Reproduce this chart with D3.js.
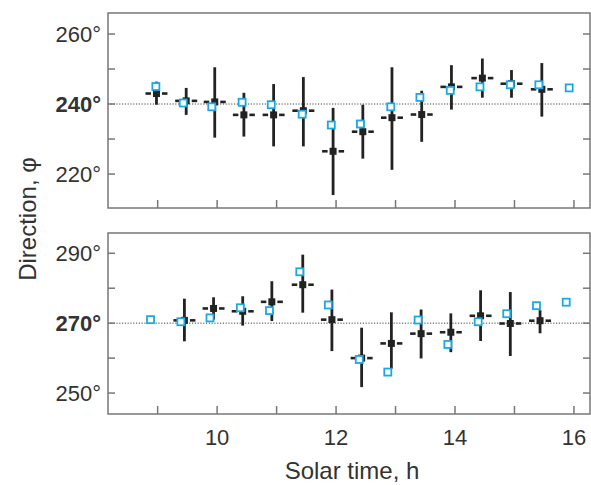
<!DOCTYPE html>
<html>
<head>
<meta charset="utf-8">
<script src="https://cdn.jsdelivr.net/npm/d3@7"></script>
<style>
  body { margin: 0; background: #fff; }
  text { font-family: "Liberation Sans", Arial, sans-serif; fill: #333; }
</style>
</head>
<body>
<script>
// Size of the svg element
var width = 591;
var height = 485;

// Upper panel (reference direction 240°): black = mean with spread, cyan = expected
var topTime  = [8.98, 9.48, 9.96, 10.45, 10.95, 11.45, 11.95, 12.45, 12.94, 13.44, 13.94, 14.46, 14.95, 15.46];
var topMean  = [243.0, 240.9, 240.6, 236.9, 236.9, 238.1, 226.5, 232.1, 236.1, 237.0, 244.9, 247.4, 245.8, 244.2];
var topLow   = [239.8, 236.9, 230.4, 230.7, 227.9, 227.9, 214.0, 224.4, 221.2, 229.2, 238.4, 241.8, 241.8, 236.4];
var topHigh  = [246.4, 244.6, 250.5, 243.2, 245.7, 247.7, 238.9, 239.8, 250.5, 243.8, 251.1, 253.0, 249.7, 251.7];
var topPredTime = [8.97, 9.43, 9.91, 10.42, 10.91, 11.43, 11.92, 12.41, 12.92, 13.41, 13.92, 14.42, 14.93, 15.41, 15.92];
var topPred     = [245.0, 240.3, 239.2, 240.5, 239.8, 237.1, 234.0, 234.3, 239.2, 241.9, 243.9, 244.9, 245.5, 245.5, 244.6];

// Lower panel (reference direction 270°)
var botTime  = [9.45, 9.94, 10.43, 10.92, 11.44, 11.93, 12.43, 12.93, 13.43, 13.93, 14.43, 14.93, 15.43];
var botMean  = [270.8, 274.2, 273.4, 276.1, 281.0, 271.0, 260.0, 264.2, 267.0, 267.4, 272.1, 269.9, 270.7];
var botLow   = [264.8, 271.0, 269.3, 270.6, 273.0, 262.0, 251.7, 257.0, 259.9, 261.7, 264.9, 260.6, 267.1];
var botHigh  = [277.0, 277.4, 277.7, 282.0, 289.6, 279.6, 268.7, 273.1, 273.9, 272.8, 279.4, 278.9, 273.7];
var botPredTime = [8.88, 9.39, 9.88, 10.39, 10.88, 11.39, 11.87, 12.39, 12.87, 13.38, 13.88, 14.39, 14.87, 15.37, 15.87];
var botPred     = [271.0, 270.4, 271.5, 274.4, 273.6, 284.7, 275.2, 259.6, 256.0, 270.9, 263.9, 270.4, 272.7, 275.0, 276.0];

// Axis ticks
var xTicks = [9, 10, 11, 12, 13, 14, 15, 16];
var xLabels = [10, 12, 14, 16];
var topTicks = [220, 230, 240, 250, 260];
var topLabels = [220, 240, 260];
var botTicks = [250, 260, 270, 280, 290];
var botLabels = [250, 270, 290];

var black = "#222";
var cyan = "#1aa9e2";
var frameColor = "#777";

var svg = d3.select("body")
            .append("svg")
            .attr("width", width)
            .attr("height", height);

var left = 108, right = 590;

var x = d3.scaleLinear().domain([8.165, 16.27]).range([left, right]);

function drawPanel(cfg) {
    var y = d3.scaleLinear().domain(cfg.domain).range([cfg.bottom, cfg.top]);
    var g = svg.append("g");

    // dotted reference line
    g.append("line")
        .attr("x1", left).attr("x2", right)
        .attr("y1", y(cfg.ref)).attr("y2", y(cfg.ref))
        .attr("stroke", "#444")
        .attr("stroke-width", 1)
        .attr("stroke-dasharray", "1.2,1.6");

    // inward ticks: left, right, bottom
    g.selectAll("line.lt").data(cfg.ticks).enter().append("line")
        .attr("x1", left).attr("x2", left + 7)
        .attr("y1", function(d) { return y(d); }).attr("y2", function(d) { return y(d); })
        .attr("stroke", frameColor).attr("stroke-width", 1.5);
    g.selectAll("line.rt").data(cfg.ticks).enter().append("line")
        .attr("x1", right - 7).attr("x2", right)
        .attr("y1", function(d) { return y(d); }).attr("y2", function(d) { return y(d); })
        .attr("stroke", frameColor).attr("stroke-width", 1.5);
    g.selectAll("line.bt").data(xTicks).enter().append("line")
        .attr("x1", function(d) { return x(d); }).attr("x2", function(d) { return x(d); })
        .attr("y1", cfg.bottom).attr("y2", cfg.bottom - 8)
        .attr("stroke", frameColor).attr("stroke-width", 1.5);

    // y tick labels
    g.selectAll("text.yl").data(cfg.labels).enter().append("text")
        .attr("x", left - 7)
        .attr("y", function(d) { return y(d) + 7.8; })
        .attr("text-anchor", "end")
        .style("font-size", "22px")
        .style("font-weight", function(d) { return d == cfg.ref ? "bold" : "normal"; })
        .text(function(d) { return d + "°"; });

    // error bars
    g.selectAll("line.eb").data(cfg.time).enter().append("line")
        .attr("x1", function(d) { return x(d); }).attr("x2", function(d) { return x(d); })
        .attr("y1", function(d, i) { return y(cfg.low[i]); })
        .attr("y2", function(d, i) { return y(cfg.high[i]); })
        .attr("stroke", black).attr("stroke-width", 2.8);

    // horizontal dashes each side of the mean
    [-1, 1].forEach(function(s) {
        g.selectAll(null).data(cfg.time).enter().append("line")
            .attr("x1", function(d) { return x(d) + s * 5.5; })
            .attr("x2", function(d) { return x(d) + s * 11; })
            .attr("y1", function(d, i) { return y(cfg.mean[i]); })
            .attr("y2", function(d, i) { return y(cfg.mean[i]); })
            .attr("stroke", black).attr("stroke-width", 2.6);
    });

    // mean squares
    g.selectAll("rect.mean").data(cfg.time).enter().append("rect")
        .attr("x", function(d) { return x(d) - 3.5; })
        .attr("y", function(d, i) { return y(cfg.mean[i]) - 3.5; })
        .attr("width", 7).attr("height", 7)
        .attr("fill", black);

    // predicted open squares
    g.selectAll("rect.pred").data(cfg.predTime).enter().append("rect")
        .attr("x", function(d) { return x(d) - 3.5; })
        .attr("y", function(d, i) { return y(cfg.pred[i]) - 3.5; })
        .attr("width", 7).attr("height", 7)
        .attr("fill", "#fff")
        .attr("stroke", cyan).attr("stroke-width", 1.8);

    // frame
    g.append("rect")
        .attr("x", left).attr("y", cfg.top)
        .attr("width", right - left).attr("height", cfg.bottom - cfg.top)
        .attr("fill", "none")
        .attr("stroke", frameColor).attr("stroke-width", 1.5);
}

drawPanel({
    top: 13, bottom: 208, domain: [210.3, 266.0], ref: 240,
    ticks: topTicks, labels: topLabels,
    time: topTime, mean: topMean, low: topLow, high: topHigh,
    predTime: topPredTime, pred: topPred
});

drawPanel({
    top: 233, bottom: 414, domain: [244.0, 295.8], ref: 270,
    ticks: botTicks, labels: botLabels,
    time: botTime, mean: botMean, low: botLow, high: botHigh,
    predTime: botPredTime, pred: botPred
});

// x tick labels
svg.selectAll("text.xl").data(xLabels).enter().append("text")
    .attr("x", function(d) { return x(d); })
    .attr("y", 445)
    .attr("text-anchor", "middle")
    .style("font-size", "22px")
    .text(function(d) { return d; });

// axis titles
svg.append("text")
    .attr("x", 352).attr("y", 479)
    .attr("text-anchor", "middle")
    .style("font-size", "24px")
    .text("Solar time, h");

svg.append("text")
    .attr("transform", "translate(36,219) rotate(-90)")
    .attr("text-anchor", "middle")
    .style("font-size", "24px")
    .text("Direction, φ");
</script>
</body>
</html>
